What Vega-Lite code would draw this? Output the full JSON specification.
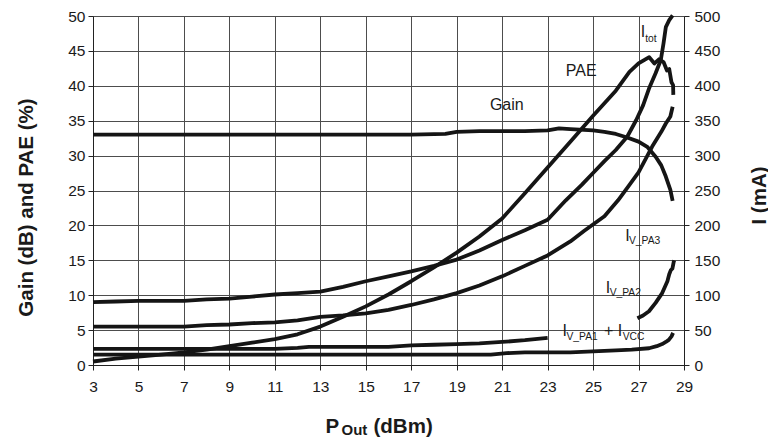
{
  "$schema": "https://vega.github.io/schema/vega-lite/v6.json",
  "width": 591,
  "height": 349,
  "autosize": {"type": "none"},
  "padding": {"left": 93, "top": 16, "right": 84, "bottom": 73},
  "background": "white",
  "config": {
    "view": {"stroke": null},
    "font": "Liberation Sans",
    "axis": {"labelFont": "Liberation Sans", "titleFont": "Liberation Sans", "labelColor": "#1a1a1a", "titleColor": "#1a1a1a", "tickColor": "#222222", "domainColor": "#222222", "gridColor": "#4d4d4d", "gridOpacity": 1, "tickSize": 5, "labelFontSize": 15.5, "titleFontSize": 20.5, "titleFontWeight": "bold"}
  },
  "datasets": {
    "left": [
      {"s": "Gain", "p": 3, "v": 33.0}, {"s": "Gain", "p": 5, "v": 33.0}, {"s": "Gain", "p": 7, "v": 33.0}, {"s": "Gain", "p": 9, "v": 33.0}, {"s": "Gain", "p": 11, "v": 33.0}, {"s": "Gain", "p": 13, "v": 33.0}, {"s": "Gain", "p": 15, "v": 33.0}, {"s": "Gain", "p": 17, "v": 33.0}, {"s": "Gain", "p": 18.5, "v": 33.1}, {"s": "Gain", "p": 19, "v": 33.4}, {"s": "Gain", "p": 20, "v": 33.5}, {"s": "Gain", "p": 21, "v": 33.5}, {"s": "Gain", "p": 22, "v": 33.5}, {"s": "Gain", "p": 23, "v": 33.6}, {"s": "Gain", "p": 23.5, "v": 33.9}, {"s": "Gain", "p": 24, "v": 33.8}, {"s": "Gain", "p": 25, "v": 33.6}, {"s": "Gain", "p": 25.5, "v": 33.4}, {"s": "Gain", "p": 26, "v": 33.1}, {"s": "Gain", "p": 26.5, "v": 32.6}, {"s": "Gain", "p": 27, "v": 32.0}, {"s": "Gain", "p": 27.4, "v": 31.2}, {"s": "Gain", "p": 27.76, "v": 29.8}, {"s": "Gain", "p": 28.0, "v": 28.6}, {"s": "Gain", "p": 28.2, "v": 27.0}, {"s": "Gain", "p": 28.4, "v": 25.1}, {"s": "Gain", "p": 28.5, "v": 23.5},
      {"s": "PAE", "p": 3, "v": 0.5}, {"s": "PAE", "p": 4, "v": 0.9}, {"s": "PAE", "p": 5, "v": 1.2}, {"s": "PAE", "p": 6, "v": 1.5}, {"s": "PAE", "p": 7, "v": 1.8}, {"s": "PAE", "p": 8, "v": 2.2}, {"s": "PAE", "p": 9, "v": 2.7}, {"s": "PAE", "p": 10, "v": 3.2}, {"s": "PAE", "p": 11, "v": 3.7}, {"s": "PAE", "p": 12, "v": 4.4}, {"s": "PAE", "p": 13, "v": 5.5}, {"s": "PAE", "p": 14, "v": 6.9}, {"s": "PAE", "p": 15, "v": 8.4}, {"s": "PAE", "p": 16, "v": 10.1}, {"s": "PAE", "p": 17, "v": 12.0}, {"s": "PAE", "p": 18, "v": 14.0}, {"s": "PAE", "p": 19, "v": 16.1}, {"s": "PAE", "p": 20, "v": 18.4}, {"s": "PAE", "p": 21, "v": 21.0}, {"s": "PAE", "p": 22, "v": 24.6}, {"s": "PAE", "p": 23, "v": 28.3}, {"s": "PAE", "p": 24, "v": 32.0}, {"s": "PAE", "p": 25, "v": 35.7}, {"s": "PAE", "p": 26, "v": 39.3}, {"s": "PAE", "p": 26.6, "v": 42.0}, {"s": "PAE", "p": 27, "v": 43.2}, {"s": "PAE", "p": 27.47, "v": 44.1}, {"s": "PAE", "p": 27.7, "v": 43.2}, {"s": "PAE", "p": 27.9, "v": 43.8}, {"s": "PAE", "p": 28.1, "v": 43.4}, {"s": "PAE", "p": 28.25, "v": 42.2}, {"s": "PAE", "p": 28.35, "v": 42.4}, {"s": "PAE", "p": 28.45, "v": 40.5}, {"s": "PAE", "p": 28.52, "v": 40.1}, {"s": "PAE", "p": 28.53, "v": 38.7}
    ],
    "right": [
      {"s": "I_tot", "seg": 1, "p": 3, "ma": 90}, {"s": "I_tot", "seg": 1, "p": 4, "ma": 91}, {"s": "I_tot", "seg": 1, "p": 5, "ma": 92}, {"s": "I_tot", "seg": 1, "p": 7, "ma": 92}, {"s": "I_tot", "seg": 1, "p": 8, "ma": 94}, {"s": "I_tot", "seg": 1, "p": 9, "ma": 95}, {"s": "I_tot", "seg": 1, "p": 10, "ma": 98}, {"s": "I_tot", "seg": 1, "p": 11, "ma": 101}, {"s": "I_tot", "seg": 1, "p": 12, "ma": 103}, {"s": "I_tot", "seg": 1, "p": 13, "ma": 105}, {"s": "I_tot", "seg": 1, "p": 14, "ma": 112}, {"s": "I_tot", "seg": 1, "p": 15, "ma": 120}, {"s": "I_tot", "seg": 1, "p": 16, "ma": 127}, {"s": "I_tot", "seg": 1, "p": 17, "ma": 134}, {"s": "I_tot", "seg": 1, "p": 18, "ma": 142}, {"s": "I_tot", "seg": 1, "p": 19, "ma": 151}, {"s": "I_tot", "seg": 1, "p": 20, "ma": 164}, {"s": "I_tot", "seg": 1, "p": 21, "ma": 179}, {"s": "I_tot", "seg": 1, "p": 22, "ma": 193}, {"s": "I_tot", "seg": 1, "p": 23, "ma": 208}, {"s": "I_tot", "seg": 1, "p": 23.8, "ma": 236}, {"s": "I_tot", "seg": 1, "p": 24.5, "ma": 258}, {"s": "I_tot", "seg": 1, "p": 25, "ma": 275}, {"s": "I_tot", "seg": 1, "p": 25.5, "ma": 292}, {"s": "I_tot", "seg": 1, "p": 26, "ma": 308}, {"s": "I_tot", "seg": 1, "p": 26.5, "ma": 327}, {"s": "I_tot", "seg": 1, "p": 26.9, "ma": 351}, {"s": "I_tot", "seg": 1, "p": 27.2, "ma": 372}, {"s": "I_tot", "seg": 1, "p": 27.46, "ma": 396}, {"s": "I_tot", "seg": 1, "p": 27.75, "ma": 418}, {"s": "I_tot", "seg": 1, "p": 27.98, "ma": 437}, {"s": "I_tot", "seg": 1, "p": 28.1, "ma": 461}, {"s": "I_tot", "seg": 1, "p": 28.2, "ma": 484}, {"s": "I_tot", "seg": 1, "p": 28.35, "ma": 494}, {"s": "I_tot", "seg": 1, "p": 28.5, "ma": 501},
      {"s": "I_V_PA3", "seg": 1, "p": 3, "ma": 55}, {"s": "I_V_PA3", "seg": 1, "p": 5, "ma": 55}, {"s": "I_V_PA3", "seg": 1, "p": 7, "ma": 55}, {"s": "I_V_PA3", "seg": 1, "p": 8, "ma": 57}, {"s": "I_V_PA3", "seg": 1, "p": 9, "ma": 58}, {"s": "I_V_PA3", "seg": 1, "p": 10, "ma": 60}, {"s": "I_V_PA3", "seg": 1, "p": 11, "ma": 61}, {"s": "I_V_PA3", "seg": 1, "p": 12, "ma": 64}, {"s": "I_V_PA3", "seg": 1, "p": 13, "ma": 69}, {"s": "I_V_PA3", "seg": 1, "p": 14, "ma": 71}, {"s": "I_V_PA3", "seg": 1, "p": 15, "ma": 74}, {"s": "I_V_PA3", "seg": 1, "p": 16, "ma": 79}, {"s": "I_V_PA3", "seg": 1, "p": 17, "ma": 86}, {"s": "I_V_PA3", "seg": 1, "p": 18, "ma": 94}, {"s": "I_V_PA3", "seg": 1, "p": 19, "ma": 103}, {"s": "I_V_PA3", "seg": 1, "p": 20, "ma": 114}, {"s": "I_V_PA3", "seg": 1, "p": 21, "ma": 127}, {"s": "I_V_PA3", "seg": 1, "p": 22, "ma": 142}, {"s": "I_V_PA3", "seg": 1, "p": 23, "ma": 157}, {"s": "I_V_PA3", "seg": 1, "p": 24, "ma": 177}, {"s": "I_V_PA3", "seg": 1, "p": 24.6, "ma": 192}, {"s": "I_V_PA3", "seg": 1, "p": 25.5, "ma": 213}, {"s": "I_V_PA3", "seg": 1, "p": 26.1, "ma": 236}, {"s": "I_V_PA3", "seg": 1, "p": 26.6, "ma": 258}, {"s": "I_V_PA3", "seg": 1, "p": 27, "ma": 276}, {"s": "I_V_PA3", "seg": 1, "p": 27.6, "ma": 313}, {"s": "I_V_PA3", "seg": 1, "p": 28, "ma": 334}, {"s": "I_V_PA3", "seg": 1, "p": 28.2, "ma": 346}, {"s": "I_V_PA3", "seg": 1, "p": 28.4, "ma": 356}, {"s": "I_V_PA3", "seg": 1, "p": 28.5, "ma": 370},
      {"s": "I_V_PA2", "seg": 1, "p": 3, "ma": 23}, {"s": "I_V_PA2", "seg": 1, "p": 5, "ma": 23}, {"s": "I_V_PA2", "seg": 1, "p": 7, "ma": 23}, {"s": "I_V_PA2", "seg": 1, "p": 9, "ma": 23}, {"s": "I_V_PA2", "seg": 1, "p": 11, "ma": 23}, {"s": "I_V_PA2", "seg": 1, "p": 12, "ma": 24.5}, {"s": "I_V_PA2", "seg": 1, "p": 12.5, "ma": 26}, {"s": "I_V_PA2", "seg": 1, "p": 14, "ma": 26}, {"s": "I_V_PA2", "seg": 1, "p": 16, "ma": 26}, {"s": "I_V_PA2", "seg": 1, "p": 17, "ma": 28}, {"s": "I_V_PA2", "seg": 1, "p": 18, "ma": 29}, {"s": "I_V_PA2", "seg": 1, "p": 19, "ma": 30}, {"s": "I_V_PA2", "seg": 1, "p": 20, "ma": 31}, {"s": "I_V_PA2", "seg": 1, "p": 21, "ma": 33}, {"s": "I_V_PA2", "seg": 1, "p": 22, "ma": 35.5}, {"s": "I_V_PA2", "seg": 1, "p": 23, "ma": 39},
      {"s": "I_V_PA2", "seg": 2, "p": 26.95, "ma": 67}, {"s": "I_V_PA2", "seg": 2, "p": 27.2, "ma": 71}, {"s": "I_V_PA2", "seg": 2, "p": 27.46, "ma": 77}, {"s": "I_V_PA2", "seg": 2, "p": 27.75, "ma": 89}, {"s": "I_V_PA2", "seg": 2, "p": 28.04, "ma": 103}, {"s": "I_V_PA2", "seg": 2, "p": 28.27, "ma": 120}, {"s": "I_V_PA2", "seg": 2, "p": 28.35, "ma": 130}, {"s": "I_V_PA2", "seg": 2, "p": 28.42, "ma": 136}, {"s": "I_V_PA2", "seg": 2, "p": 28.49, "ma": 138}, {"s": "I_V_PA2", "seg": 2, "p": 28.55, "ma": 148}, {"s": "I_V_PA2", "seg": 2, "p": 28.57, "ma": 150},
      {"s": "I_V_PA1 + I_VCC", "seg": 1, "p": 3, "ma": 15}, {"s": "I_V_PA1 + I_VCC", "seg": 1, "p": 5, "ma": 15}, {"s": "I_V_PA1 + I_VCC", "seg": 1, "p": 7, "ma": 15}, {"s": "I_V_PA1 + I_VCC", "seg": 1, "p": 9, "ma": 15}, {"s": "I_V_PA1 + I_VCC", "seg": 1, "p": 11, "ma": 15}, {"s": "I_V_PA1 + I_VCC", "seg": 1, "p": 13, "ma": 15}, {"s": "I_V_PA1 + I_VCC", "seg": 1, "p": 15, "ma": 15}, {"s": "I_V_PA1 + I_VCC", "seg": 1, "p": 17, "ma": 15}, {"s": "I_V_PA1 + I_VCC", "seg": 1, "p": 19, "ma": 15}, {"s": "I_V_PA1 + I_VCC", "seg": 1, "p": 20.5, "ma": 15}, {"s": "I_V_PA1 + I_VCC", "seg": 1, "p": 21.2, "ma": 17}, {"s": "I_V_PA1 + I_VCC", "seg": 1, "p": 22, "ma": 18}, {"s": "I_V_PA1 + I_VCC", "seg": 1, "p": 24, "ma": 18}, {"s": "I_V_PA1 + I_VCC", "seg": 1, "p": 25, "ma": 19.5}, {"s": "I_V_PA1 + I_VCC", "seg": 1, "p": 26, "ma": 21}, {"s": "I_V_PA1 + I_VCC", "seg": 1, "p": 26.7, "ma": 22}, {"s": "I_V_PA1 + I_VCC", "seg": 1, "p": 27.46, "ma": 24}, {"s": "I_V_PA1 + I_VCC", "seg": 1, "p": 27.8, "ma": 27}, {"s": "I_V_PA1 + I_VCC", "seg": 1, "p": 28.04, "ma": 30}, {"s": "I_V_PA1 + I_VCC", "seg": 1, "p": 28.2, "ma": 33}, {"s": "I_V_PA1 + I_VCC", "seg": 1, "p": 28.33, "ma": 36}, {"s": "I_V_PA1 + I_VCC", "seg": 1, "p": 28.45, "ma": 41}, {"s": "I_V_PA1 + I_VCC", "seg": 1, "p": 28.52, "ma": 46}
    ],
    "lab": [
      {"t": "Gain", "p": 20.46, "v": 37.24},
      {"t": "PAE", "p": 23.8, "v": 42.1},
      {"t": "I", "p": 27.1, "v": 47.7},
      {"t": "I", "p": 26.41, "v": 18.5},
      {"t": "I", "p": 25.56, "v": 11.1},
      {"t": "I", "p": 23.65, "v": 4.8},
      {"t": "+ I", "p": 25.48, "v": 4.8}
    ],
    "sub": [
      {"t": "tot", "p": 27.29, "v": 46.7},
      {"t": "V_PA3", "p": 26.58, "v": 17.7},
      {"t": "V_PA2", "p": 25.73, "v": 10.3},
      {"t": "V_PA1", "p": 23.83, "v": 3.98},
      {"t": "VCC", "p": 26.3, "v": 3.98}
    ]
  },
  "layer": [
    {
      "data": {"name": "left"},
      "mark": {"type": "line", "color": "#151515", "strokeWidth": 3.8, "strokeJoin": "round"},
      "encoding": {
        "x": {"field": "p", "type": "quantitative", "scale": {"domain": [3, 29], "nice": false, "zero": false},
          "axis": {"orient": "bottom", "values": [3, 5, 7, 9, 11, 13, 15, 17, 19, 21, 23, 25, 27, 29], "labelFlush": false, "labelPadding": 9, "grid": true,
            "title": "P", "titleX": 232, "titleY": 67, "titleAlign": "left", "titleBaseline": "alphabetic"}},
        "y": {"field": "v", "type": "quantitative", "scale": {"domain": [0, 50], "nice": false, "zero": true},
          "axis": {"orient": "left", "values": [0, 5, 10, 15, 20, 25, 30, 35, 40, 45, 50], "labelPadding": 3, "grid": true,
            "title": "Gain (dB) and PAE (%)", "titleAngle": 270, "titleX": -61, "titleY": 191, "titleAlign": "center", "titleBaseline": "alphabetic"}},
        "detail": {"field": "s"}
      }
    },
    {
      "data": {"name": "right"},
      "mark": {"type": "line", "color": "#151515", "strokeWidth": 3.8, "strokeJoin": "round"},
      "encoding": {
        "x": {"field": "p", "type": "quantitative", "scale": {"domain": [3, 29], "nice": false, "zero": false},
          "axis": {"orient": "bottom", "labels": false, "ticks": false, "domain": false, "grid": false,
            "title": "(dBm)", "titleX": 280, "titleY": 67, "titleAlign": "left", "titleBaseline": "alphabetic"}},
        "y": {"field": "ma", "type": "quantitative", "scale": {"domain": [0, 500], "nice": false, "zero": true},
          "axis": {"orient": "right", "values": [0, 50, 100, 150, 200, 250, 300, 350, 400, 450, 500], "labelPadding": 5, "grid": false,
            "title": "I (mA)", "titleAngle": 270, "titleX": 81, "titleY": 179, "titleAlign": "center", "titleBaseline": "alphabetic"}},
        "detail": [{"field": "s"}, {"field": "seg"}]
      }
    },
    {
      "data": {"name": "lab"},
      "mark": {"type": "text", "align": "left", "baseline": "middle", "fontSize": 16, "font": "Liberation Sans", "color": "#1a1a1a"},
      "encoding": {
        "x": {"field": "p", "type": "quantitative", "scale": {"domain": [3, 29], "nice": false, "zero": false}, "axis": null},
        "y": {"field": "v", "type": "quantitative", "scale": {"domain": [0, 50], "nice": false}, "axis": null},
        "text": {"field": "t"}
      }
    },
    {
      "data": {"name": "sub"},
      "mark": {"type": "text", "align": "left", "baseline": "middle", "fontSize": 10.3, "font": "Liberation Sans", "color": "#1a1a1a"},
      "encoding": {
        "x": {"field": "p", "type": "quantitative", "scale": {"domain": [3, 29], "nice": false, "zero": false},
          "axis": {"orient": "bottom", "labels": false, "ticks": false, "domain": false, "grid": false,
            "title": "Out", "titleFontSize": 15, "titleX": 248, "titleY": 69.5, "titleAlign": "left", "titleBaseline": "alphabetic"}},
        "y": {"field": "v", "type": "quantitative", "scale": {"domain": [0, 50], "nice": false}, "axis": null},
        "text": {"field": "t"}
      }
    }
  ],
  "resolve": {"scale": {"y": "independent"}, "axis": {"x": "independent", "y": "independent"}}
}
